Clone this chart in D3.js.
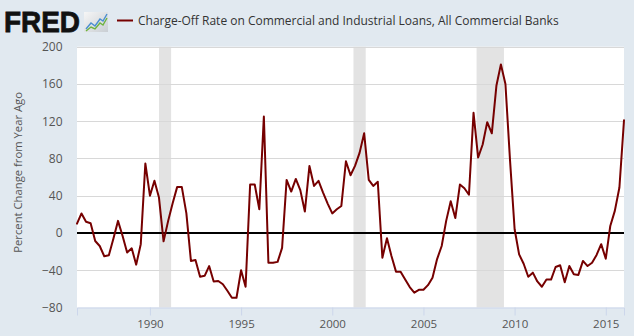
<!DOCTYPE html>
<html><head><meta charset="utf-8">
<script src="https://cdn.jsdelivr.net/npm/d3@7"></script>
<style>
html,body{margin:0;padding:0;background:#e1e9f0;}
svg{display:block;font-family:"Open Sans",sans-serif;}
</style>
</head><body>
<svg id="c" width="634" height="336"></svg>
<script>
// ---- data ----
const firstQuarter = "1986-01-01";
const chargeOffPctChange = [
  10, 21, 12, 10.5, -8.6, -14, -25, -24, -6, 13,
  -3, -21, -16.5, -34, -12, 74.6, 40, 56, 38, -9,
  13, 32, 49.5, 49.5, 21, -30, -29, -47, -46, -35.5,
  -52, -51.5, -55, -62, -69.5, -69.5, -40, -57.7, 52, 52,
  25.5, 125, -32, -32, -31, -16, 57, 44.5, 58, 46,
  23, 72, 50.5, 56, 43.4, 31.6, 21, 25.5, 29, 77,
  62, 72, 86, 107, 57, 50.5, 55, -26.5, -5.7, -24.7,
  -41.5, -41.5, -50, -58, -64, -61, -61, -56, -48, -28,
  -14, 13, 34, 16, 52, 48, 41, 129, 81, 95,
  119, 107, 158, 181, 160, 78, 4, -23, -33, -47,
  -42.6, -52, -57.7, -50, -50, -36.5, -34.7, -53, -35.5, -44.4,
  -45, -30, -35.5, -32, -23.6, -12, -27.6, 7.5, 23.7, 48.8,
  121
];
const recessionStarts = ["1990-07-01", "2001-03-01", "2007-12-01"];
const recessionEnds   = ["1991-03-01", "2001-11-01", "2009-06-01"];
const yTickValues = [-80, -40, 0, 40, 80, 120, 160, 200];
const xTickYears = [1990, 1995, 2000, 2005, 2010, 2015];
const seriesTitle = "Charge-Off Rate on Commercial and Industrial Loans, All Commercial Banks";
const yAxisTitle = "Percent Change from Year Ago";

// ---- layout ----
const W = 634, H = 336;
const plot = {left: 77, right: 624, top: 46.7, bottom: 307.5};
const seriesColor = "#760000";
const svg = d3.select("#c");
svg.append("rect").attr("width", W).attr("height", H).attr("fill", "#e1e9f0");

const parse = d3.utcParse("%Y-%m-%d");
const t0 = parse(firstQuarter);
const data = chargeOffPctChange.map((v, i) => ({date: d3.utcMonth.offset(t0, 3 * i), value: v}));

const x = d3.scaleUtc().domain(d3.extent(data, d => d.date)).range([plot.left, plot.right]);
const y = d3.scaleLinear().domain([-80, 200]).range([plot.bottom, plot.top]);

// plot background
svg.append("rect").attr("x", plot.left).attr("y", plot.top)
  .attr("width", plot.right - plot.left).attr("height", plot.bottom - plot.top).attr("fill", "#ffffff");

// recessions
svg.append("g").selectAll("rect").data(recessionStarts.map((s, i) => [parse(s), parse(recessionEnds[i])]))
  .join("rect")
  .attr("x", d => x(d[0])).attr("width", d => x(d[1]) - x(d[0]))
  .attr("y", plot.top).attr("height", plot.bottom - plot.top)
  .attr("fill", "#e3e3e3");

// gridlines
svg.append("g").selectAll("line").data(yTickValues.filter(v => v !== 0 && v !== -80))
  .join("line")
  .attr("x1", plot.left).attr("x2", plot.right)
  .attr("y1", d => Math.round(y(d)) + 0.5).attr("y2", d => Math.round(y(d)) + 0.5)
  .attr("stroke", "#d8d8d8").attr("stroke-width", 1);

// y axis labels
const yAxis = svg.append("g").attr("transform", `translate(${plot.left},0)`)
  .call(d3.axisLeft(y).tickValues(yTickValues).tickSize(0).tickPadding(14.5).tickFormat(d3.format("d")));
yAxis.select(".domain").remove();
yAxis.selectAll("text").attr("fill", "#555").style("font-size", "12px").style("font-family", "Open Sans");

// x axis
const xAxis = svg.append("g").attr("transform", `translate(0,${plot.bottom})`)
  .call(d3.axisBottom(x).tickValues(xTickYears.map(yr => new Date(Date.UTC(yr, 0, 1))))
    .tickSize(8).tickPadding(4).tickFormat(d3.utcFormat("%Y")));
xAxis.select(".domain").attr("stroke", "#ccd6eb");
xAxis.selectAll(".tick line").attr("stroke", "#ccd6eb");
xAxis.selectAll("text").attr("fill", "#555").style("font-size", "11.5px").style("font-family", "Open Sans");

// zero line
svg.append("line").attr("x1", plot.left).attr("x2", plot.right)
  .attr("y1", y(0)).attr("y2", y(0)).attr("stroke", "#000").attr("stroke-width", 2);

// series
svg.append("path").datum(data)
  .attr("fill", "none").attr("stroke", seriesColor).attr("stroke-width", 2)
  .attr("stroke-linejoin", "round").attr("stroke-linecap", "round")
  .attr("d", d3.line().x(d => x(d.date)).y(d => y(d.value)));

// y axis title
const yt = svg.append("text").attr("transform", "translate(22,172.4) rotate(-90)")
  .attr("text-anchor", "middle").attr("fill", "#555").style("font-size", "12px").text(yAxisTitle);
const ytl = yt.node().getComputedTextLength();
yt.style("font-size", (12 * 161 / ytl) + "px");

// header: FRED logo
svg.append("text").attr("x", 4).attr("y", 32).attr("fill", "#111")
  .style("font-family", "Liberation Sans, Arial, sans-serif").style("font-weight", "bold")
  .style("font-size", "30px").attr("stroke", "#111").attr("stroke-width", 0.8)
  .attr("textLength", 76).attr("lengthAdjust", "spacingAndGlyphs").text("FRED");
// small chart icon
const icon = svg.append("g").attr("transform", "translate(84,12)");
const grad = svg.append("defs").append("linearGradient").attr("id", "ig").attr("x1", 0).attr("y1", 0).attr("x2", 1).attr("y2", 1);
grad.append("stop").attr("offset", 0).attr("stop-color", "#f6f6f6");
grad.append("stop").attr("offset", 1).attr("stop-color", "#c9ced3");
icon.append("rect").attr("width", 24).attr("height", 20).attr("fill", "url(#ig)");
icon.append("path").attr("d", "M2,17 L7,11 L11,14 L16,7 L19,9 L23,2").attr("fill", "none").attr("stroke", "#4a8fd0").attr("stroke-width", 1.4);
icon.append("path").attr("d", "M2,19 L7,15 L11,17 L16,11 L19,13 L23,6").attr("fill", "none").attr("stroke", "#6db33f").attr("stroke-width", 1.4);

// legend dash + title
svg.append("line").attr("x1", 117).attr("x2", 133).attr("y1", 20.5).attr("y2", 20.5)
  .attr("stroke", seriesColor).attr("stroke-width", 2);
const tt = svg.append("text").attr("x", 138).attr("y", 25).attr("fill", "#333")
  .style("font-size", "13px").text(seriesTitle);
const ttl = tt.node().getComputedTextLength();
tt.style("font-size", (13 * 421 / ttl) + "px");
</script>
</body></html>
